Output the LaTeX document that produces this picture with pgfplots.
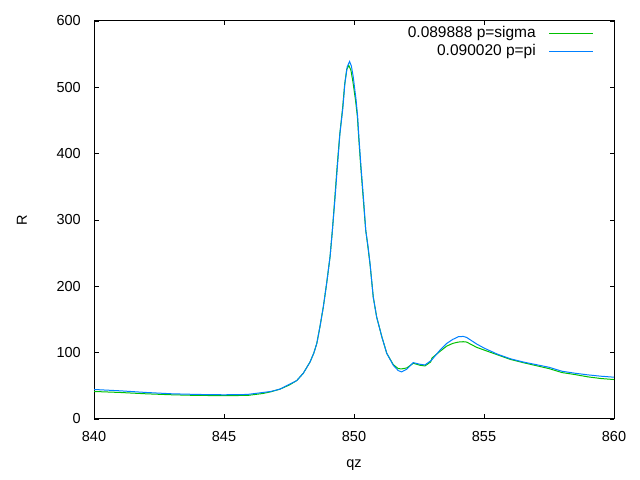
\documentclass[border=0pt]{standalone}
\usepackage{pgfplots}
\pgfplotsset{compat=1.18}
\usepackage{fontspec}
\setmainfont{Liberation Sans}
\definecolor{gpgreen}{RGB}{0,192,0}
\definecolor{gpblue}{RGB}{0,128,255}
\begin{document}
\fontsize{14.5bp}{17bp}\selectfont
\begin{tikzpicture}
\path[use as bounding box] (0,0) rectangle (640bp,480bp);
\begin{axis}[
  at={(94bp,61bp)}, anchor=south west,
  scale only axis, width=520bp, height=398bp,
  xmin=840, xmax=860, ymin=0, ymax=600,
  xtick={840,845,...,860}, ytick={0,100,...,600},
  minor tick num=0,
  tick align=inside, major tick length=4.5bp,
  tick style={black, line width=0.8bp},
  axis line style={black, line width=1bp},
  /pgf/number format/assume math mode=true,
  /pgf/number format/1000 sep={},
  ticklabel style={font=\fontsize{14.5bp}{17bp}\selectfont},
  xticklabel style={anchor=base, inner sep=0pt, yshift=-23bp},
  yticklabel style={anchor=east, inner sep=0pt, xshift=-13bp},
  xlabel={qz}, ylabel={R},
  xlabel style={at={(axis description cs:0.5,0)}, anchor=center, yshift=-46bp, inner sep=0pt},
  ylabel style={at={(axis description cs:0,0.5)}, anchor=center, yshift=72bp, inner sep=0pt},
  legend plot pos=right,
  legend cell align=right,
  legend image code/.code={\draw[#1] (0bp,0bp) -- (44bp,0bp);},
  legend style={at={(axis description cs:1,1)}, anchor=north east, xshift=-20bp, yshift=-3bp,
    draw=none, fill=none, inner sep=0pt, row sep=0pt,
    column sep=13bp,
    font=\fontsize{15.5bp}{18bp}\selectfont,
    nodes={inner sep=0pt, text height=13bp, text depth=5bp}},
]
\addplot[gpgreen, line width=1bp] coordinates {
(840,41.5) (841,40) (842,38) (843,36.5) (844,35.5) (845,35.3) (845.9,35.5)
(846.5,38.5) (846.8,41) (847.15,45) (847.5,51) (847.8,58) (848.05,69)
(848.31,86) (848.45,99) (848.57,114) (848.69,139) (848.82,169) (848.95,205) (849.08,245)
(849.17,285) (849.26,332) (849.35,380) (849.45,428) (849.56,468) (849.64,504) (849.72,527)
(849.80,533) (849.88,526) (849.96,508) (850.06,480) (850.13,456) (850.18,425) (850.26,380)
(850.36,330) (850.45,285) (850.54,258) (850.62,232) (850.74,184) (850.87,154) (851.07,124) (851.26,99)
(851.51,82) (851.7,76) (851.83,75.5) (852.03,77) (852.28,84) (852.54,81)
(852.73,80) (852.95,86) (853.0,92) (853.31,102) (853.57,110) (853.8,114)
(854.01,116) (854.2,116.5) (854.33,116) (854.72,108) (855.0,104) (855.5,97)
(856,90) (856.5,85) (857,80.5) (857.5,76) (858,70) (858.5,67) (859,63.5)
(859.5,61) (860,59.5)
};
\addlegendentry{0.089888 p=sigma}
\addplot[gpblue, line width=1bp] coordinates {
(840,44.5) (841,42.5) (842,40) (843,38) (844,37) (845,36.5) (845.9,37)
(846.5,40) (846.8,41.5) (847.15,45) (847.5,52) (847.8,58) (848.05,69)
(848.31,86) (848.45,99) (848.57,114) (848.69,139) (848.82,169) (848.95,205) (849.08,245)
(849.17,285) (849.27,333) (849.36,380) (849.46,431) (849.57,468) (849.65,506) (849.74,531)
(849.83,539) (849.90,532) (849.97,516) (850.08,481) (850.14,456) (850.19,424) (850.27,380)
(850.37,330) (850.45,285) (850.54,260) (850.62,233) (850.74,184) (850.87,154) (851.07,124) (851.26,99)
(851.51,81) (851.7,73) (851.83,71) (852.03,75) (852.28,85) (852.54,82.5)
(852.73,81.4) (852.99,89) (853.31,104) (853.57,114) (853.8,120) (854.01,124)
(854.2,124.5) (854.33,123) (854.72,113) (855.0,107) (855.5,98) (856,91)
(856.5,86) (857,82) (857.5,78) (858,72) (858.5,69) (859,66.5) (859.5,64.5)
(860,63)
};
\addlegendentry{0.090020 p=pi}
\end{axis}
\end{tikzpicture}
\end{document}
